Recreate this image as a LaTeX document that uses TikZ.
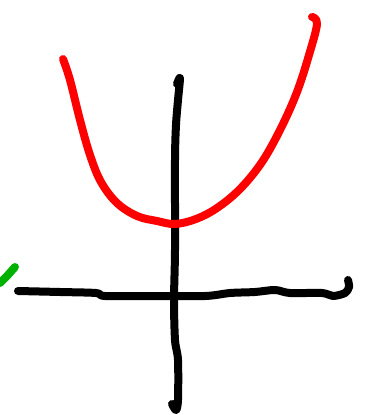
\documentclass[tikz,border=0pt]{standalone}
\begin{document}
\begin{tikzpicture}[x=1pt,y=-1pt,
  stroke/.style={line width=8pt,line cap=round,line join=round}]
\useasboundingbox (0,0) rectangle (373,415);
% vertical axis
\draw[stroke,black] plot[smooth,tension=0.5] coordinates {(177,84) (180,78) (178,100) (176,125) (175,160) (175,250) (174,300) (175,340) (178,360) (178,400) (176,410) (172,404)};
% horizontal axis
\draw[stroke,black] plot[smooth,tension=0.5] coordinates {(18,291) (60,292) (96,293) (105,296) (150,296) (205,296) (230,293) (255,292) (275,290) (290,293) (322,293) (333,296) (345,293) (349,287) (348,280)};
% parabola
\draw[stroke,red] plot[smooth,tension=0.6] coordinates {(63,59) (70,80) (80,120) (90,155) (101,182) (117,203) (137,216) (157,221) (175,224) (196,219) (217,208) (240,189) (262,162) (281,128) (297,92) (309,55) (317,24) (312,17)};
% green stroke
\draw[stroke,green!70!black] (0,283) -- (7,276) -- (15,267);
\end{tikzpicture}
\end{document}
